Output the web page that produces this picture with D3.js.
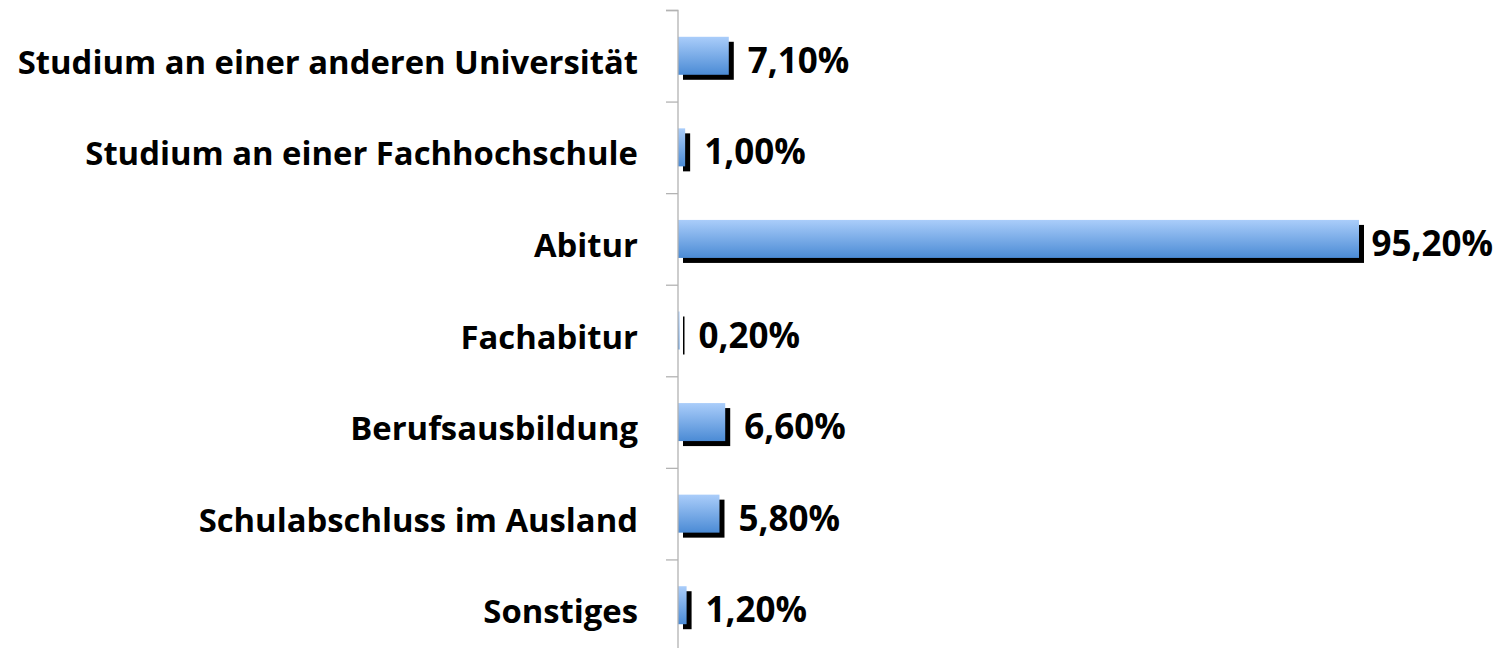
<!DOCTYPE html>
<html><head><meta charset="utf-8">
<script src="https://cdn.jsdelivr.net/npm/d3@7/dist/d3.min.js"></script>
<style>body{margin:0;background:#fff}svg{display:block}</style>
</head><body>
<script>
const categories = ["Studium an einer anderen Universität","Studium an einer Fachhochschule","Abitur","Fachabitur","Berufsausbildung","Schulabschluss im Ausland","Sonstiges"];
const values = [7.1, 1.0, 95.2, 0.2, 6.6, 5.8, 1.2];
const valueLabels = ["7,10%","1,00%","95,20%","0,20%","6,60%","5,80%","1,20%"];

const W = 1509, H = 648;
const x0 = 678;
const svg = d3.select("body").append("svg").attr("width", W).attr("height", H);
const defs = svg.append("defs");
const grad = defs.append("linearGradient").attr("id","g").attr("x1",0).attr("y1",0).attr("x2",0).attr("y2",1);
grad.append("stop").attr("offset","0%").attr("stop-color","#aacdfa");
grad.append("stop").attr("offset","100%").attr("stop-color","#4b8bd5");

const x = d3.scaleLinear().domain([0, 95.2]).range([x0, 1359]);
const y = d3.scaleBand().domain(categories).range([10, 651]).paddingInner(0.585).paddingOuter(0.2925);

const font = "'Open Sans', sans-serif";
const off = 5;

svg.append("g").selectAll("rect").data(categories).join("rect")
  .attr("x", x0 + off)
  .attr("y", d => y(d) + off)
  .attr("width", (d,i) => Math.max(1.5, x(values[i]) - x0))
  .attr("height", y.bandwidth())
  .attr("fill", "#000");
svg.append("g").selectAll("rect").data(categories).join("rect")
  .attr("x", x0)
  .attr("y", d => y(d))
  .attr("width", (d,i) => Math.max(1.5, x(values[i]) - x0))
  .attr("height", y.bandwidth())
  .attr("fill", "url(#g)");

const yAxis = d3.axisLeft(d3.scaleLinear().domain([0, categories.length]).range([10, 651]))
  .tickValues(d3.range(0, categories.length + 1)).tickSize(12).tickFormat("");
const ag = svg.append("g").attr("transform", `translate(${x0},0)`).call(yAxis);
ag.selectAll("path,line").attr("stroke", "#b3b3b3").attr("stroke-width", 1.3);
ag.select("path").attr("d", `M-12,10.5H0V${H+5}`);

svg.append("g").selectAll("text").data(categories).join("text")
  .attr("x", 638)
  .attr("y", d => y(d) + y.bandwidth()/2 + 18)
  .attr("text-anchor", "end")
  .attr("font-family", font).attr("font-weight", "bold").attr("font-size", 32.8)
  .attr("fill", "#000")
  .text(d => d);

svg.append("g").selectAll("text").data(categories).join("text")
  .attr("y", d => y(d) + y.bandwidth()/2 + 17)
  .attr("font-family", font).attr("font-weight", "bold").attr("font-size", 35)
  .attr("fill", "#000")
  .text((d,i) => valueLabels[i])
  .each(function(d,i){
    const w = this.getComputedTextLength();
    const xv = x(values[i]) + 19;
    d3.select(this).attr("x", Math.min(xv, 1493 - w));
  });
</script>
</body></html>
